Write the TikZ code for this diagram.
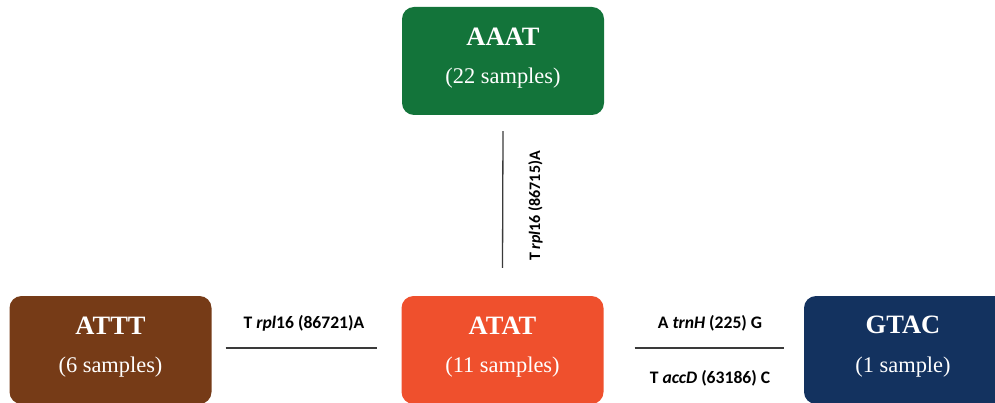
\documentclass[tikz,border=0pt]{standalone}
\usepackage{fontspec}
\setmainfont{Liberation Serif}
\newfontfamily\lblfont{Carlito}
\usetikzlibrary{calc}

\definecolor{hapgreen}{HTML}{13743A}
\definecolor{hapbrown}{HTML}{763B17}
\definecolor{haporange}{HTML}{EF502D}
\definecolor{hapnavy}{HTML}{13325F}
\definecolor{linegray}{HTML}{3A3A3A}

\begin{document}
\begin{tikzpicture}[x=1pt,y=-1pt,
  seqbox/.style={rounded corners=12pt, minimum width=202pt, minimum height=108pt, inner sep=0pt},
  hapname/.style={text=white, inner sep=0pt, font=\fontsize{26.5}{30}\selectfont\bfseries},
  hapcount/.style={text=white, inner sep=0pt, font=\fontsize{22.4}{26}\selectfont},
  mutlabel/.style={inner sep=0pt, anchor=base, font=\lblfont\bfseries\fontsize{17.6}{20}\selectfont},
  link/.style={draw=linegray, line width=1.3pt}]
\useasboundingbox (0,0) rectangle (995,403);

% haplotype boxes
\node[seqbox, fill=hapgreen]  (aaat) at (503,61)    {};
\node[seqbox, fill=hapbrown]  (attt) at (110.5,350) {};
\node[seqbox, fill=haporange] (atat) at (502.5,350) {};
\node[seqbox, fill=hapnavy]   (gtac) at (905,350)   {};

% names and sample counts
\node[hapname]  (aaatname) at ($(aaat.north)+(0,29.5)$) {AAAT};
\node[hapcount] (aaatnum)  at ($(aaat.north)+(0,71)$)   {(22 samples)};
\node[hapname]  (atttname) at ($(attt.north)+(0,29.5)$) {ATTT};
\node[hapcount] (atttnum)  at ($(attt.north)+(0,71)$)   {(6 samples)};
\node[hapname]  (atatname) at ($(atat.north)+(0,29.5)$) {ATAT};
\node[hapcount] (atatnum)  at ($(atat.north)+(0,71)$)   {(11 samples)};
\node[hapname]  (gtacname) at ($(gtac.north)+(-2,29.5)$) {GTAC};
\node[hapcount] (gtacnum)  at ($(gtac.north)+(-2,71)$)   {(1 sample)};

% mutational steps between haplotypes
\draw[link] ($(aaat.south)+(0,16)$) -- ($(atat.north)+(0,-28)$);
\draw[link] ($(attt.east)+(14,-2)$) -- ($(atat.west)+(-24,-2)$);
\draw[link] ($(atat.east)+(31,-2)$) -- ($(gtac.west)+(-20,-2)$);

% step labels
\node[mutlabel, rotate=90, font=\lblfont\bfseries\fontsize{16}{20}\selectfont]
                           (lblup)    at (540,206) {T \textit{rpl}16 (86715)A};
\node[mutlabel]            (lblleft)  at (304,328) {T \textit{rpl}16 (86721)A};
\node[mutlabel]            (lblright) at (710,328) {A \textit{trnH} (225) G};
\node[mutlabel]            (lblbelow) at (710,383) {T \textit{accD} (63186) C};
\end{tikzpicture}
\end{document}
